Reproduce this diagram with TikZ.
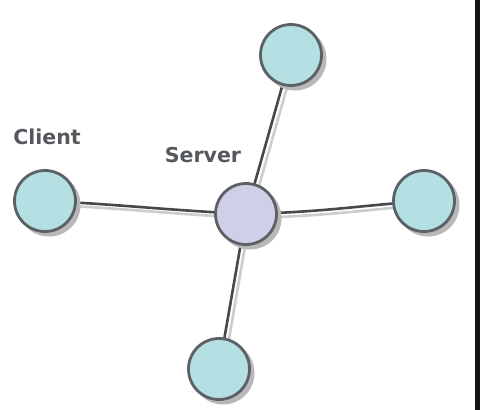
\documentclass[tikz,border=0pt]{standalone}
\usepackage{fontspec}
\setmainfont{DejaVu Sans}
\begin{document}
\begin{tikzpicture}[x=1pt,y=-1pt,
  nodeball/.style={circle,draw=ballline,line width=2.8pt,inner sep=0pt,minimum size=61pt},
  clientball/.style={nodeball,fill=clientfill},
  serverball/.style={nodeball,fill=serverfill},
  ballshadow/.style={circle,fill=shadowgray,inner sep=0pt,minimum size=63pt},
  wire/.style={draw=wireline,line width=2.6pt,line cap=round},
  wireshadow/.style={draw=shadowgray!70,line width=2.6pt,line cap=round},
  lbl/.style={font=\bfseries\fontsize{20.5}{24}\selectfont,text=labelgray}]
\definecolor{ballline}{HTML}{5C6166}
\definecolor{clientfill}{HTML}{B4E0E4}
\definecolor{serverfill}{HTML}{CFD0E8}
\definecolor{shadowgray}{HTML}{B8B8B8}
\definecolor{wireline}{HTML}{45484C}
\definecolor{labelgray}{HTML}{55595D}
\definecolor{barblack}{HTML}{10151A}
\useasboundingbox (0,0) rectangle (480,410);
\fill[white] (0,0) rectangle (480,410);
\fill[barblack] (475,0) rectangle (480,410);
% shadow coordinates
\coordinate (sclient) at (49,205);
\coordinate (sserver) at (250,218);
\coordinate (stop) at (295,59);
\coordinate (sright) at (428,205);
\coordinate (sbottom) at (223,373);
% wire shadows
\draw[wireshadow] (sclient) .. controls (120,208) and (170,214) .. (sserver);
\draw[wireshadow] (sserver) -- (stop);
\draw[wireshadow] (sserver) .. controls (330,216) and (360,210) .. (sright);
\draw[wireshadow] (sserver) -- (sbottom);
% wires
\coordinate (cclient) at (45,201);
\coordinate (cserver) at (246,214);
\coordinate (ctop) at (291,55);
\coordinate (cright) at (424,201);
\coordinate (cbottom) at (219,369);
\draw[wire] (cclient) .. controls (115,204) and (165,210) .. (cserver);
\draw[wire] (cserver) -- (ctop);
\draw[wire] (cserver) .. controls (325,212) and (355,206) .. (cright);
\draw[wire] (cserver) -- (cbottom);
% ball shadows
\node[ballshadow] (shc) at (49,205) {};
\node[ballshadow] (shs) at (250,218) {};
\node[ballshadow] (sht) at (295,59) {};
\node[ballshadow] (shr) at (428,205) {};
\node[ballshadow] (shb) at (223,373) {};
% balls
\node[clientball] (client) at (cclient) {};
\node[serverball] (server) at (cserver) {};
\node[clientball] (top) at (ctop) {};
\node[clientball] (right) at (cright) {};
\node[clientball] (bottom) at (cbottom) {};
% labels
\node[lbl] (clientlbl) at (47,137) {Client};
\node[lbl] (serverlbl) at (203,155) {Server};
\end{tikzpicture}
\end{document}
